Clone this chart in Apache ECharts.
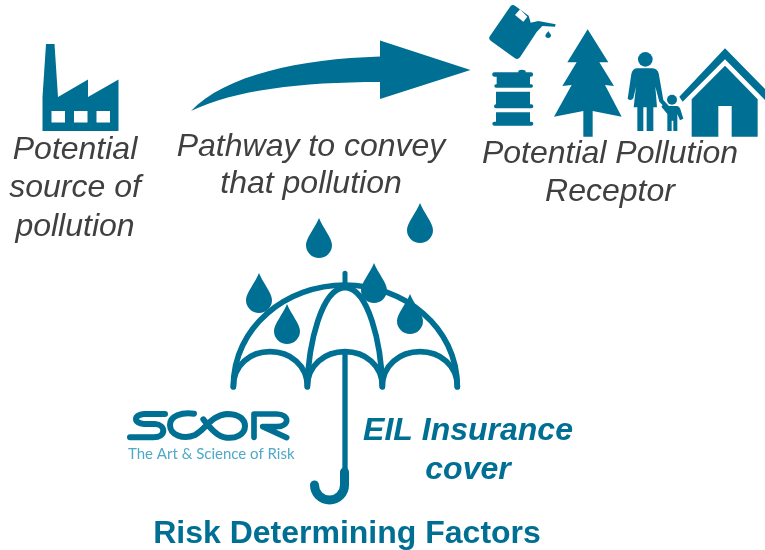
<!DOCTYPE html>
<html>
<head>
<meta charset="utf-8">
<style>
  html, body { margin: 0; padding: 0; background: #fff; }
  #chart { width: 765px; height: 550px; }
</style>
</head>
<body>
<div id="chart"></div>
<script src="https://cdn.jsdelivr.net/npm/echarts@6/dist/echarts.min.js"></script>
<script>
const sourceLines = ['Potential', 'source of', 'pollution']
const pathwayLines = ['Pathway to convey', 'that pollution']
const receptorLines = ['Potential Pollution', 'Receptor']
const coverLines = ['EIL Insurance', 'cover']
const footerText = 'Risk Determining Factors'
const logoTagline = 'The Art & Science of Risk'

const TEAL = '#006f94'
const GREY = '#404040'
const FONT = '"Liberation Sans", Arial, sans-serif'

const chart = echarts.init(document.getElementById('chart'), null, { renderer: 'canvas' })

// centred block of text, one element per line
const textBlock = (lines, cx, firstY, lineGap, style) =>
  lines.map((line, i) => ({
    type: 'text',
    x: cx,
    y: firstY + i * lineGap,
    style: Object.assign({
      text: line,
      align: 'center',
      verticalAlign: 'middle',
      fontFamily: FONT
    }, style)
  }))

const fillPath = (d, fill) => ({ type: 'path', shape: { pathData: d }, style: { fill: fill || TEAL } })
const linePath = (d, w) => ({
  type: 'path',
  shape: { pathData: d },
  style: { fill: 'none', stroke: TEAL, lineWidth: w, lineCap: 'round', lineJoin: 'round' }
})

// teardrop, top point at 0,0
const drop = (x, y) => ({
  type: 'path',
  x: x,
  y: y,
  shape: { pathData: 'M13 0 C17 10 26 20 26 27 A13 13 0 0 1 0 27 C0 20 9 10 13 0 Z' },
  style: { fill: TEAL }
})

const greyItalic = { fontSize: 32, fontStyle: 'italic', fill: GREY }
const tealBoldItalic = { fontSize: 32, fontStyle: 'italic', fontWeight: 'bold', fill: TEAL }

const elements = [
  // factory
  fillPath('M46 44 H54.5 L58 97 L88 79.5 V97 L118.5 79.5 V131 H42.5 V97 Z'),
  fillPath('M51.5 111 H65 V122.5 H51.5 Z M74 111 H87.5 V122.5 H74 Z M96.5 111 H110 V122.5 H96.5 Z', '#fff'),
  // pathway arrow
  fillPath('M191 111 C225 75 300 59 380 56.5 V40.5 L470.5 70 L380 99 V82 C300 82 235 90 191 111 Z'),
  // receptor icons, drawn in the 3x crop coordinates
  {
    type: 'group',
    x: 470,
    y: 0,
    scaleX: 1 / 3,
    scaleY: 1 / 3,
    children: [
      // can
      fillPath('M122 18 Q128 12 136 18 L176 47 L182 68 L205 63 L257 73 L255 80 L217 78 L200 96 L150 172 Q143 180 135 175 L62 122 Q54 115 60 108 Z'),
      fillPath('M135 45 L150 28 L172 50 L160 65 Z', '#fff'),
      fillPath('M235 93 C238 100 245 103 243 108 A9 9 0 0 1 226 108 C227 102 232 98 235 93 Z'),
      // drum
      fillPath('M145 217 V212 Q155 206 167 212 V217 H183 A6.5 6.5 0 0 1 183 230 H180 V253 H184 A5 5 0 0 1 184 263 H78 A5 5 0 0 1 78 253 H80 V230 H73 A6.5 6.5 0 0 1 73 217 Z'),
      fillPath('M78 275 H180 V313 H184 A6 6 0 0 1 184 325 H78 A6 6 0 0 1 78 313 Z'),
      fillPath('M78 337 H180 V365 H184 A6 6 0 0 1 184 377 H73 A6 6 0 0 1 73 365 H78 Z'),
      // tree
      fillPath('M353 88 L415 187 L388 187 L432 258 L405 255 L455 350 L368 333 V410 H340 V333 L252 350 L305 255 L277 258 L320 187 L292 187 Z'),
      // woman
      { type: 'circle', shape: { cx: 526, cy: 178, r: 22 }, style: { fill: TEAL } },
      fillPath('M500 205 H548 Q562 207 566 220 L580 300 L600 322 L592 330 L568 305 L556 260 L561 322 H550 V393 H530 V322 H520 V393 H502 V322 H491 L498 260 L490 295 Q482 304 473 296 L484 222 Q487 207 500 205 Z'),
      // child
      { type: 'circle', shape: { cx: 606, cy: 299, r: 15 }, style: { fill: TEAL } },
      fillPath('M590 318 H622 Q628 320 631 327 L640 356 L630 361 L622 342 V393 H610 V362 H605 V393 H592 V342 L574 320 L581 312 Z'),
      // house
      fillPath('M765 145 L890 272 V305 L765 178 L638 305 L628 290 Z'),
      fillPath('M765 197 L863 298 V410 H785 V318 H745 V410 H665 V298 Z')
    ]
  },
  // umbrella, also in crop coordinates
  {
    type: 'group',
    x: 220,
    y: 200,
    scaleX: 1 / 3,
    scaleY: 1 / 3,
    children: [
      linePath('M40 560 C40 380 200 255 375 255 C550 255 712 380 712 560', 17),
      linePath('M40 560 C40 495 90 455 150 455 C210 455 262 495 262 560 C262 495 315 455 375 455 C435 455 487 495 487 560 C487 495 540 455 600 455 C660 455 712 495 712 560', 17),
      linePath('M262 560 C265 430 305 265 375 262 C445 265 484 430 487 560', 17),
      linePath('M375 220 V255', 15),
      linePath('M375 455 V810', 16)
    ]
  },
  // handle
  {
    type: 'path',
    shape: { pathData: 'M344.5 472 V485 A15 15 0 0 1 314.5 485' },
    style: { fill: 'none', stroke: TEAL, lineWidth: 9, lineCap: 'round' }
  },
  drop(306, 218),
  drop(407, 203),
  drop(246, 273),
  drop(274, 304),
  drop(361, 263),
  drop(397, 294),
  // logo wordmark, crop coordinates of the lower area
  {
    type: 'group',
    x: 120,
    y: 390,
    scaleX: 1 / 3,
    scaleY: 1 / 3,
    children: [
      linePath('M135 72 H72 C40 74 40 100 72 102 H105 C138 104 140 142 100 142 H30', 18),
      linePath('M222 71 C185 66 150 78 150 105 C150 135 190 150 225 135 C255 120 275 75 320 72 C360 72 375 90 375 108 C375 135 345 146 320 143 C290 140 268 110 250 88', 18),
      linePath('M402 142 V72 H470 C510 72 510 110 470 110 H428 L500 143', 17)
    ]
  },
  {
    type: 'text',
    x: 128,
    y: 454,
    style: {
      text: logoTagline,
      fontFamily: 'Lato, "Open Sans", sans-serif',
      fontSize: 15,
      fill: '#4fa9c7',
      verticalAlign: 'middle'
    }
  }
]
  .concat(textBlock(sourceLines, 75, 150, 38.5, greyItalic))
  .concat(textBlock(pathwayLines, 311, 147, 37.5, greyItalic))
  .concat(textBlock(receptorLines, 610, 154, 38, greyItalic))
  .concat(textBlock(coverLines, 468, 431, 39, tealBoldItalic))
  .concat(textBlock([footerText], 347, 534, 0, { fontSize: 32, fontWeight: 'bold', fill: TEAL }))

chart.setOption({
  animation: false,
  backgroundColor: '#fff',
  series: [{
    type: 'custom',
    coordinateSystem: 'none',
    silent: true,
    data: [[0]],
    renderItem: () => ({ type: 'group', children: elements })
  }]
})
</script>
</body>
</html>
